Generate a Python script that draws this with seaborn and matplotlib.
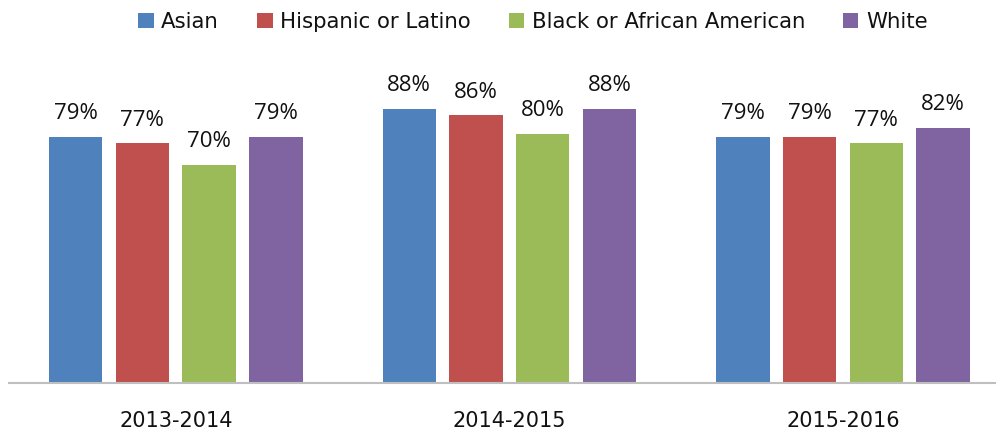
import matplotlib
matplotlib.use("Agg")
import matplotlib.pyplot as plt
import seaborn as sns
import pandas as pd

years = ["2013-2014", "2014-2015", "2015-2016"]
groups = ["Asian", "Hispanic or Latino", "Black or African American", "White"]
asian = [79, 88, 79]
hispanic = [77, 86, 79]
black = [70, 80, 77]
white = [79, 88, 82]
colors = ["#4F81BD", "#C0504D", "#9BBB59", "#8064A2"]

rows = []
for g, vals in zip(groups, [asian, hispanic, black, white]):
    for y, v in zip(years, vals):
        rows.append({"year": y, "group": g, "value": v})
df = pd.DataFrame(rows)

sns.set_style("white")
plt.rcParams["font.family"] = ["DejaVu Sans"]

fig = plt.figure(figsize=(9.96, 4.29), dpi=100)
W, H = 996, 429
ax = fig.add_axes([9 / W, (H - 383) / H, (996 - 9) / W, (383 - 71.5) / H])

sns.barplot(data=df, x="year", y="value", hue="group", order=years,
            hue_order=groups, palette=colors, saturation=1, width=0.8, gap=0.2,
            linewidth=0, ax=ax, legend=True)

handles, labels = ax.get_legend_handles_labels()
ax.get_legend().remove()

for cont in ax.containers:
    ax.bar_label(cont, fmt="{:.0f}%", padding=9, fontsize=16,
                 fontfamily="Open Sans", color="#111111")

ax.set_ylim(0, 100)
ax.set_xlim(-0.5, (996 - 176) / 333.5)
ax.set_xlabel("")
ax.set_ylabel("")
ax.set_yticks([])
for s in ["left", "right", "top"]:
    ax.spines[s].set_visible(False)
ax.spines["bottom"].set_color("#BFBFBF")
ax.spines["bottom"].set_linewidth(1.5)
ax.tick_params(axis="x", length=0, pad=20, labelsize=15, labelcolor="#111111")

fig.legend(handles, labels, loc="center", ncol=4,
           bbox_to_anchor=(533 / W, 1 - 22 / H), frameon=False,
           fontsize=15.3, handlelength=0.72, handleheight=0.72,
           handletextpad=0.35, columnspacing=1.8, labelcolor="#111111")

fig.savefig("out.png", dpi=100)
